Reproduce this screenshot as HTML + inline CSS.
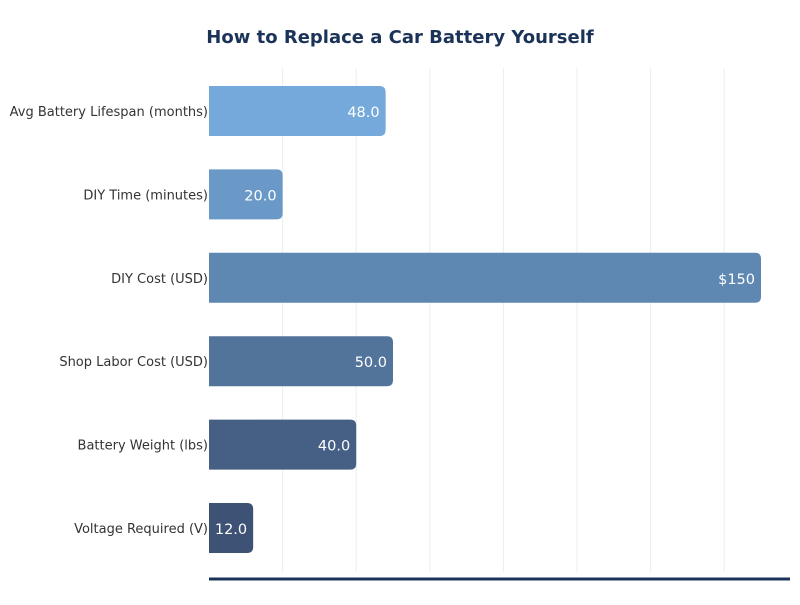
<!DOCTYPE html>
<html><head><meta charset="utf-8"><style>
body{margin:0;background:#fff;}
svg text{font-family:"DejaVu Sans","Liberation Sans",sans-serif;}
</style></head><body>
<svg id="chart" width="800" height="600">
<text x="400" y="43" text-anchor="middle" font-size="18" font-weight="bold" fill="#1b3358">How to Replace a Car Battery Yourself</text>
<g id="grid"></g><g id="bars"></g>
<line x1="209" x2="790" y1="579" y2="579" stroke="#1b3358" stroke-width="3"/>
</svg>
<script>
const categories=["Avg Battery Lifespan (months)","DIY Time (minutes)","DIY Cost (USD)","Shop Labor Cost (USD)","Battery Weight (lbs)","Voltage Required (V)"];
const values=[48,20,150,50,40,12];
const valueLabels=["48.0","20.0","$150","50.0","40.0","12.0"];
const gridTicks=[20,40,60,80,100,120,140];
const colors=["#75a9dc","#6a99c8","#5e87b1","#52739a","#465f85","#3d5274"];
const ns="http://www.w3.org/2000/svg";
const x=v=>209+v*3.68;
const yc=i=>111+i*83.4;
const g=document.getElementById("grid"),b=document.getElementById("bars");
function mk(t,a,p){const e=document.createElementNS(ns,t);for(const k in a)e.setAttribute(k,a[k]);p.appendChild(e);return e;}
gridTicks.forEach(t=>{
const l=mk("line",{x1:x(t),x2:x(t),y1:68,y2:572,stroke:"#ececec","stroke-width":1},g);


});
categories.forEach((c,i)=>{
const y=yc(i),w=x(values[i])-209,r=6;
const p=mk("path",{d:`M209 ${y-25}H${209+w-r}Q${209+w} ${y-25} ${209+w} ${y-25+r}V${y+25-r}Q${209+w} ${y+25} ${209+w-r} ${y+25}H209Z`,fill:colors[i]},b);


const lt=mk("text",{x:208,y:y+5,"text-anchor":"end","font-size":13,fill:"#333"},b);lt.textContent=c;


const vt=mk("text",{x:209+w-6,y:y+6,"text-anchor":"end","font-size":14.5,fill:"#fff"},b);vt.textContent=valueLabels[i];


});
</script>
</body></html>
